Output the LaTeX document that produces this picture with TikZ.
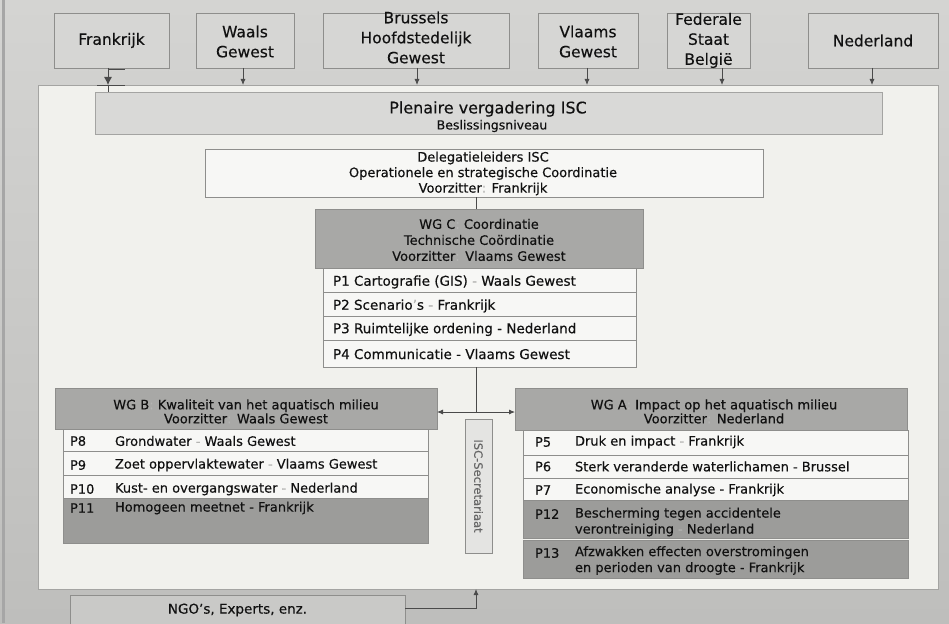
\documentclass[tikz,border=0pt]{standalone}
\usepackage{fontspec}
\setmainfont{DejaVu Sans}[FakeBold=0.35]
\usetikzlibrary{arrows.meta}
\definecolor{bgtop}{HTML}{D4D4D2}
\definecolor{bgbot}{HTML}{BEBEBC}
\definecolor{panelfill}{HTML}{F1F1ED}
\definecolor{panelline}{HTML}{A4A4A2}
\definecolor{topfill}{HTML}{D6D6D4}
\definecolor{boxline}{HTML}{8E8E8C}
\definecolor{plenfill}{HTML}{D9D9D7}
\definecolor{whitefill}{HTML}{F7F7F5}
\definecolor{headfill}{HTML}{A8A8A6}
\definecolor{darkfill}{HTML}{9C9C9A}
\definecolor{secfill}{HTML}{E4E4E2}
\definecolor{ngofill}{HTML}{C9C9C7}
\definecolor{ink}{HTML}{111111}
\definecolor{faint}{HTML}{B4B4B2}
\definecolor{connc}{HTML}{4A4A4A}
\begin{document}
\begin{tikzpicture}[x=1pt,y=-1pt,
  every node/.style={inner sep=0pt,outer sep=0pt,text=ink},
  boxn/.style={draw=boxline,line width=0.6pt,anchor=north west},
  toptxt/.style={align=center,font=\fontsize{15.5}{20}\selectfont},
  midtxt/.style={align=center,font=\fontsize{13}{15.5}\selectfont},
  rowtxt/.style={anchor=west,align=left,font=\fontsize{13}{16}\selectfont},
  ctxt/.style={anchor=west,font=\fontsize{13.5}{16}\selectfont},
  conn/.style={draw=connc,line width=0.8pt},
  tip/.style={-{Latex[length=6pt,width=5pt]}},
  bigtip/.style={-{Latex[length=8pt,width=8pt]}}
]
\useasboundingbox (0,0) rectangle (949,623);
\shade[top color=bgtop,bottom color=bgbot] (0,0) rectangle (949,623);
\fill[gray!70] (2,0) rectangle (5,623);

% inner panel
\node[boxn,draw=panelline,fill=panelfill,minimum width=900,minimum height=504] (panel) at (38,85) {};

% top boxes
\node[boxn,fill=topfill,minimum width=115,minimum height=55] (fr) at (54,13) {};
\node[toptxt] (frt) at (fr.center) {Frankrijk};
\node[boxn,fill=topfill,minimum width=98,minimum height=55] (wa) at (196,13) {};
\node[toptxt] (wat) at ([yshift=-1]wa.center) {Waals\\Gewest};
\node[boxn,fill=topfill,minimum width=186,minimum height=55] (br) at (323,13) {};
\node[toptxt] (brt) at ([yshift=3]br.center) {Brussels\\Hoofdstedelijk\\Gewest};
\node[boxn,fill=topfill,minimum width=100,minimum height=55] (vl) at (538,13) {};
\node[toptxt] (vlt) at ([yshift=-1]vl.center) {Vlaams\\Gewest};
\node[boxn,fill=topfill,minimum width=83,minimum height=55] (fe) at (667,13) {};
\node[toptxt] (fet) at ([yshift=0]fe.center) {Federale\\Staat\\België};
\node[boxn,fill=topfill,minimum width=130,minimum height=55] (ne) at (808,13) {};
\node[toptxt] (net) at (ne.center) {Nederland};

% plenaire
\node[boxn,draw=panelline,fill=plenfill,minimum width=787,minimum height=42] (plen) at (95,92) {};
\node[font=\fontsize{16}{18}\selectfont] (plent) at (488,109) {Plenaire vergadering ISC};
\node[font=\fontsize{12.5}{15}\selectfont] (plens) at (492,126) {Beslissingsniveau};

% arrows from top boxes
\coordinate (frx) at ([xshift=-3.5]fr.south);
\coordinate (frend) at (frx |- panel.north);
\draw[conn] (frend) -- (frx |- plen.north);
\draw[conn] ([yshift=-1.5]frx) -- ++(17,0);
\draw[conn,bigtip] (frx) -- (frend);
\draw[conn] ([xshift=-11]frend) -- ++(28,0);
\draw[conn,tip] ([xshift=-2]wa.south) -- ([xshift=-2]wa.south |- panel.north);
\draw[conn,tip] ([xshift=1]br.south) -- ([xshift=1]br.south |- panel.north);
\draw[conn,tip] ([xshift=-1]vl.south) -- ([xshift=-1]vl.south |- panel.north);
\draw[conn,tip] ([xshift=13.5]fe.south) -- ([xshift=13.5]fe.south |- panel.north);
\draw[conn,tip] ([xshift=-1]ne.south) -- ([xshift=-1]ne.south |- panel.north);

% delegatie
\node[boxn,fill=whitefill,minimum width=558,minimum height=48] (deleg) at (205,149) {};
\node[midtxt] (delegt) at (483,173.5) {Delegatieleiders ISC\\Operationele en strategische Coordinatie\\Voorzitter\textcolor{faint}{:} Frankrijk};

% WG C
\node[boxn,fill=headfill,minimum width=328,minimum height=59] (wgc) at (315,209) {};
\node[midtxt,font=\fontsize{13}{16}\selectfont] (wgct) at (479,240) {WG C\textcolor{faint}{:} Coordinatie\\Technische Coördinatie\\Voorzitter\textcolor{faint}{:} Vlaams Gewest};

\node[boxn,fill=whitefill,minimum width=313,minimum height=24] (p1) at (323,268) {};
\node[boxn,fill=whitefill,minimum width=313,minimum height=24] (p2) at (323,292) {};
\node[boxn,fill=whitefill,minimum width=313,minimum height=24] (p3) at (323,316) {};
\node[boxn,fill=whitefill,minimum width=313,minimum height=27] (p4) at (323,340) {};
\node[ctxt] (p1t) at (333,282) {P1 Cartografie (GIS) \textcolor{faint}{-} Waals Gewest};
\node[ctxt] (p2t) at (333,306) {P2 Scenario\textcolor{faint}{'}s \textcolor{faint}{-} Frankrijk};
\node[ctxt] (p3t) at (333,329.5) {P3 Ruimtelijke ordening - Nederland};
\node[ctxt] (p4t) at (333,354) {P4 Communicatie - Vlaams Gewest};

% spine
\coordinate (spine) at (476,0);
\coordinate (jn) at (476,412);
\draw[conn] (deleg.south -| spine) -- (wgc.north -| spine);
\draw[conn] (p4.south -| spine) -- (jn);

% WG B
\node[boxn,fill=headfill,minimum width=382,minimum height=41] (wgb) at (55,388) {};
\node[midtxt,font=\fontsize{13}{14}\selectfont] (wgbt) at (246,411.5) {WG B\textcolor{faint}{:} Kwaliteit van het aquatisch milieu\\Voorzitter\textcolor{faint}{:} Waals Gewest};
\node[boxn,fill=whitefill,minimum width=365,minimum height=22] (p8) at (63,429) {};
\node[boxn,fill=whitefill,minimum width=365,minimum height=24] (p9) at (63,451) {};
\node[boxn,fill=whitefill,minimum width=365,minimum height=23] (p10) at (63,475) {};
\node[boxn,fill=darkfill,minimum width=365,minimum height=45] (p11) at (63,498) {};
\node[rowtxt] (p8l) at (70,441) {P8};
\node[rowtxt] (p8d) at (115,441) {Grondwater \textcolor{faint}{-} Waals Gewest};
\node[rowtxt] (p9l) at (70,465) {P9};
\node[rowtxt] (p9d) at (115,465) {Zoet oppervlaktewater \textcolor{faint}{-} Vlaams Gewest};
\node[rowtxt] (p10l) at (70,489) {P10};
\node[rowtxt] (p10d) at (115,489) {Kust- en overgangswater \textcolor{faint}{-} Nederland};
\node[rowtxt] (p11l) at (70,508) {P11};
\node[rowtxt] (p11d) at (115,508) {Homogeen meetnet - Frankrijk};

% WG A
\node[boxn,fill=headfill,minimum width=392,minimum height=42] (wga) at (515,388) {};
\node[midtxt,font=\fontsize{13}{14}\selectfont] (wgat) at (714,411.5) {WG A\textcolor{faint}{:} Impact op het aquatisch milieu\\Voorzitter\textcolor{faint}{:} Nederland};
\node[boxn,fill=whitefill,minimum width=385,minimum height=25] (p5) at (523,430) {};
\node[boxn,fill=whitefill,minimum width=385,minimum height=23] (p6) at (523,455) {};
\node[boxn,fill=whitefill,minimum width=385,minimum height=22] (p7) at (523,478) {};
\node[boxn,fill=darkfill,minimum width=385,minimum height=38] (p12) at (523,500) {};
\node[boxn,fill=darkfill,minimum width=385,minimum height=38] (p13) at (523,540) {};
\node[rowtxt] (p5l) at (535,442) {P5};
\node[rowtxt] (p5d) at (575,442) {Druk en impact \textcolor{faint}{-} Frankrijk};
\node[rowtxt] (p6l) at (535,466.5) {P6};
\node[rowtxt] (p6d) at (575,466.5) {Sterk veranderde waterlichamen - Brussel};
\node[rowtxt] (p7l) at (535,490) {P7};
\node[rowtxt] (p7d) at (575,490) {Economische analyse - Frankrijk};
\node[rowtxt] (p12l) at (535,514) {P12};
\node[rowtxt] (p12d) at (575,522) {Bescherming tegen accidentele\\verontreiniging \textcolor{faint}{-} Nederland};
\node[rowtxt] (p13l) at (535,553) {P13};
\node[rowtxt] (p13d) at (575,560.5) {Afzwakken effecten overstromingen\\en perioden van droogte - Frankrijk};

% junction arrows
\draw[conn,tip] (jn) -- (wgb.east |- jn);
\draw[conn,tip] (jn) -- (wga.west |- jn);

% secretariaat
\node[boxn,fill=secfill,minimum width=27,minimum height=134] (sec) at (465,419) {};
\node[rotate=-90,font=\fontsize{11.5}{13}\selectfont,text=black!60] (sect) at (sec.center) {ISC-Secretariaat};

% NGO
\node[boxn,fill=ngofill,minimum width=335,minimum height=36] (ngo) at (70,595) {};
\node[font=\fontsize{13.5}{15}\selectfont] (ngot) at (237.5,610) {NGO's, Experts, enz.};
\draw[conn,tip] ([yshift=5]ngo.east) -| (panel.south -| spine);
\end{tikzpicture}
\end{document}
